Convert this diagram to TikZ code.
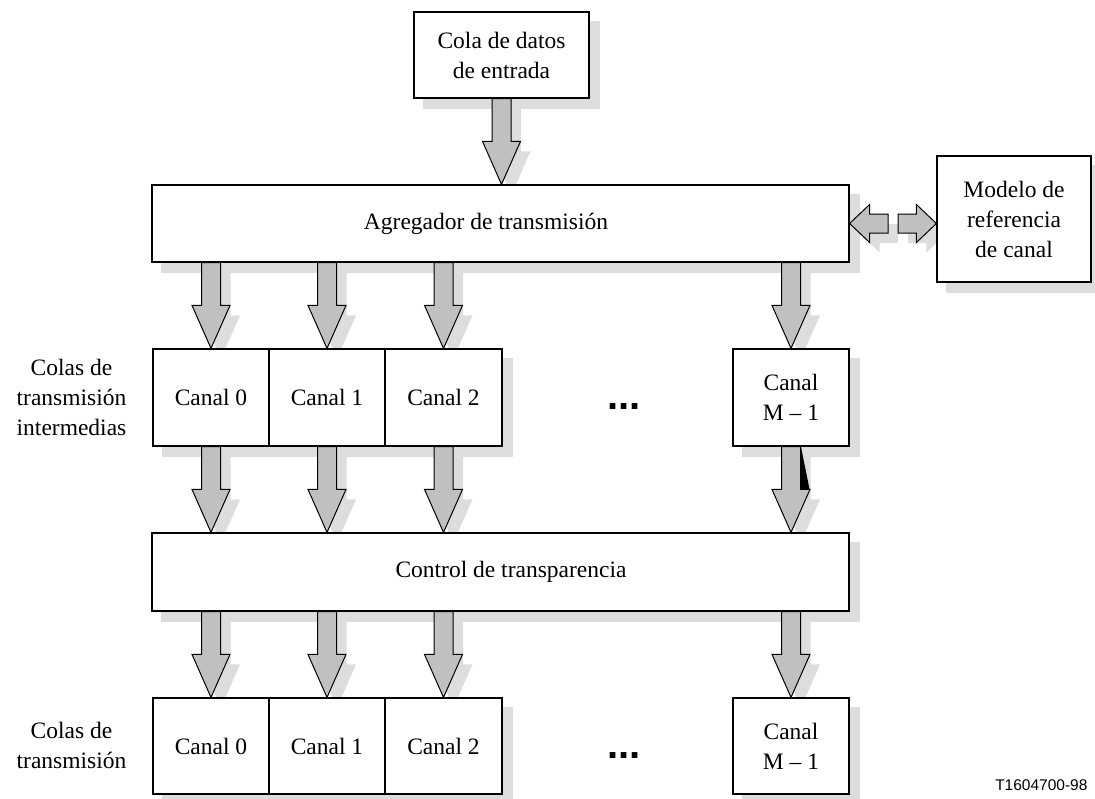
\documentclass[tikz,border=0pt]{standalone}
\usepackage{fontspec}
\setmainfont{Liberation Serif}
\setsansfont{Liberation Sans}
\usetikzlibrary{calc}

\pgfdeclarelayer{shadow}
\pgfsetlayers{shadow,main}

\definecolor{fatgray}{HTML}{C0C0C0}
\definecolor{shadowgray}{HTML}{DDDDDD}

% outline of a fat arrow: head length, from, to
\newcommand{\fatpath}[3]{let \p3=($(#3)!#1!(#2)$) in
  ($(#2)!9.5pt!90:(#3)$) -- ($(\p3)!9.5pt!90:(#3)$) -- ($(\p3)!19pt!90:(#3)$) -- (#3)
  -- ($(\p3)!19pt!-90:(#3)$) -- ($(\p3)!9.5pt!-90:(#3)$) -- ($(#2)!9.5pt!-90:(#3)$) -- cycle}

\newcommand{\fatarrow}[3][43pt]{%
  \begin{pgfonlayer}{shadow}
    \fill[shadowfill, transform canvas={shift={(10pt,-10pt)}}] \fatpath{#1}{#2}{#3};
  \end{pgfonlayer}
  \filldraw[fat] \fatpath{#1}{#2}{#3};}

\begin{document}
\begin{tikzpicture}[
        x=1pt, y=-1pt,
        block/.style={draw, line width=1.2pt, fill=white, inner sep=0pt, align=center, font=\fontsize{23.5}{30}\selectfont},
        canal/.style={block, minimum width=116pt, minimum height=97pt},
        wide/.style={block, minimum width=697pt, minimum height=78pt},
        side/.style={align=center, font=\fontsize{23.5}{30}\selectfont},
        dots/.style={anchor=base, font=\sffamily\bfseries\fontsize{40}{40}\selectfont},
        fat/.style={fill=fatgray, draw=black, line width=1pt, line join=miter},
        shadowfill/.style={fill=shadowgray}
    ]
        \useasboundingbox (0,0) rectangle (1095,798);

        \node[block, minimum width=175pt, minimum height=86pt] (entrada) at (501.5,55) {Cola de datos\\de entrada};
        \node[wide, minimum height=77pt] (agg) at (500.5,223.5) {\hspace*{-29pt}Agregador de transmisión};
        \node[block, minimum width=154pt, minimum height=126pt] (modelo) at (1014,219) {Modelo de\\referencia\\de canal};

        % intermediate queues
        \node[canal] (a0) at (211,397.5) {Canal 0};
        \node[canal] (a1) at (327,397.5) {Canal 1};
        \node[canal, minimum width=117pt] (a2) at (443.5,397.5) {Canal 2};
        \node[canal] (am) at (791,397.5) {Canal\\M -- 1};
        \node[dots] (d1) at (624,409) {...};
        \node[side] (lbl1) at (71.5,397.5) {Colas de\\transmisión\\intermedias};

        \node[wide] (ctrl) at (500.5,572) {\hspace*{21pt}Control de transparencia};

        % output queues
        \node[canal, minimum height=96pt] (b0) at (211,746) {Canal 0};
        \node[canal, minimum height=96pt] (b1) at (327,746) {Canal 1};
        \node[canal, minimum width=117pt, minimum height=96pt] (b2) at (443.5,746) {Canal 2};
        \node[canal, minimum height=96pt] (bm) at (791,746) {Canal\\M -- 1};
        \node[dots] (d2) at (624,758) {...};
        \node[side] (lbl2) at (71.5,745) {Colas de\\transmisión};

        \node[anchor=base east, font=\sffamily\fontsize{15.5}{16}\selectfont] (tag) at (1091,790) {T1604700-98};

        % box shadows
        \begin{pgfonlayer}{shadow}
            \foreach \n in {entrada,agg,modelo,a0,a1,a2,am,ctrl,b0,b1,b2,bm}
                \fill[shadowfill] ([xshift=10pt,yshift=-10pt]\n.south west) rectangle ([xshift=10pt,yshift=-10pt]\n.north east);
        \end{pgfonlayer}

        % fat arrows
        \fatarrow{entrada.south}{entrada.south |- agg.north}
        \foreach \c in {a0,a1,a2,am} {
            \fatarrow{\c |- agg.south}{\c.north}
            \fatarrow{\c.south}{\c |- ctrl.north}
        }
        \foreach \c in {b0,b1,b2,bm} {
            \fatarrow{\c |- ctrl.south}{\c.north}
        }

        \coordinate (gl) at (888,223.5);
        \coordinate (gr) at (898,223.5);
        \fatarrow[20pt]{gl}{agg.east}
        \fatarrow[20pt]{gr}{modelo.west |- agg.east}

        \fill (801,447) -- (809.5,489) -- (801,489) -- cycle;
    \end{tikzpicture}
\end{document}
